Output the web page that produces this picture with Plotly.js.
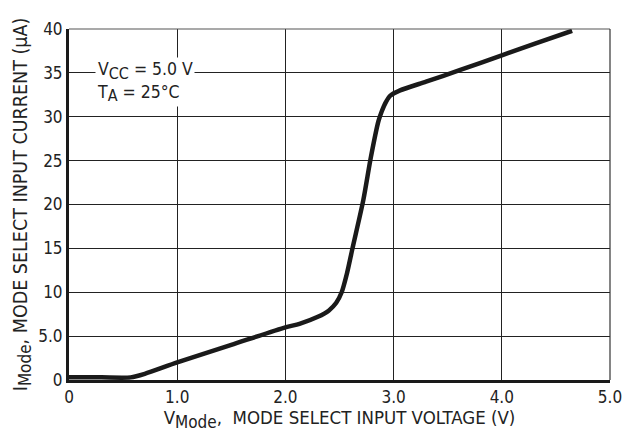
<!DOCTYPE html>
<html>
<head>
<meta charset="utf-8">
<script src="https://cdn.plot.ly/plotly-3.0.1.min.js"></script>
<style>html,body{margin:0;padding:0;background:#fff;}#chart{width:631px;height:443px;}</style>
</head>
<body>
<div id="chart"></div>
<script>
// Data
const vMode = [0, 0.3, 0.57, 0.7, 1.0, 1.5, 2.0, 2.13, 2.3, 2.4, 2.47, 2.52, 2.57, 2.62, 2.72, 2.79, 2.86, 2.89, 2.93, 2.97, 3.06, 3.3, 3.61, 4.0, 4.3, 4.65];
const iMode = [0.3, 0.3, 0.3, 0.7, 2.0, 4.0, 6.0, 6.4, 7.2, 7.9, 8.8, 10.0, 12.2, 15.0, 20.5, 25.4, 29.5, 30.6, 31.7, 32.4, 33.0, 34.0, 35.3, 37.0, 38.3, 39.8];
const xTickVals = [0, 1, 2, 3, 4, 5];
const xTickText = ["0", "1.0", "2.0", "3.0", "4.0", "5.0"];
const yTickVals = [0, 5, 10, 15, 20, 25, 30, 35, 40];
const yTickText = ["0", "5.0", "10", "15", "20", "25", "30", "35", "40"];

const FONT = "'DejaVu Sans Condensed', 'Liberation Sans Narrow', 'Arial Narrow', sans-serif";
const SUB = (s, px) => '<sub><span style="font-size:' + px + 'px">' + s + '</span></sub>';

const trace = {
  x: vMode, y: iMode, type: 'scatter', mode: 'lines',
  line: {color: '#1a1a1a', width: 4.5, shape: 'spline', smoothing: 0.7},
  hoverinfo: 'skip'
};

const layout = {
  width: 631, height: 443,
  margin: {l: 69, r: 21, t: 29, b: 63},
  paper_bgcolor: '#fff', plot_bgcolor: '#fff',
  showlegend: false,
  font: {family: FONT, size: 17, color: '#222'},
  xaxis: {
    range: [0, 5], tickvals: xTickVals, ticktext: xTickText,
    showgrid: true, gridcolor: '#222', gridwidth: 1.2,
    showline: true, linecolor: '#1a1a1a', linewidth: 3,
    zeroline: false, ticks: '', ticklen: 0,
    tickfont: {family: FONT, size: 17, color: '#222'},
    title: {text: 'V' + SUB('Mode', 17) + ',  MODE SELECT INPUT VOLTAGE (V)', font: {family: FONT, size: 18.5, color: '#222'}, standoff: 5}
  },
  yaxis: {
    range: [0, 40], tickvals: yTickVals, ticktext: yTickText,
    showgrid: true, gridcolor: '#222', gridwidth: 1.2,
    showline: true, linecolor: '#1a1a1a', linewidth: 3,
    zeroline: false, ticks: '', ticklen: 0,
    tickfont: {family: FONT, size: 17, color: '#222'},
    title: {text: 'I' + SUB('Mode', 17) + ', MODE SELECT INPUT CURRENT (μA)', font: {family: FONT, size: 19.5, color: '#222'}, standoff: 6}
  },
  shapes: [
    {type: 'line', xref: 'paper', yref: 'paper', x0: 0, x1: 1, y0: 1, y1: 1, line: {color: '#555', width: 1.2}},
    {type: 'line', xref: 'paper', yref: 'paper', x0: 1, x1: 1, y0: 0, y1: 1, line: {color: '#333', width: 1.2}}
  ],
  annotations: [
    {xref: 'x', yref: 'y', x: 0.24, y: 34.0, xanchor: 'left', yanchor: 'middle',
     text: 'V' + SUB('CC', 16) + ' = 5.0 V<br>T' + SUB('A', 16) + ' = 25°C', align: 'left', showarrow: false,
     bgcolor: '#fff', borderpad: 1, font: {family: FONT, size: 17.5, color: '#222'}}
  ]
};

Plotly.newPlot('chart', [trace], layout, {displayModeBar: false, staticPlot: true});
</script>
</body>
</html>
